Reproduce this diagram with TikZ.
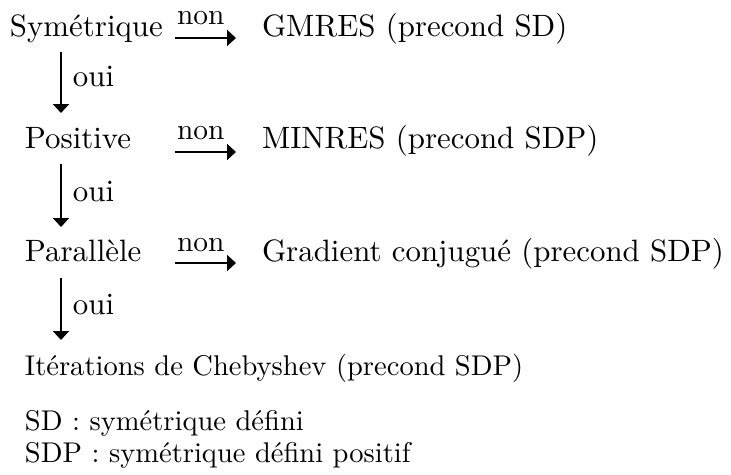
\documentclass[tikz,border=0pt]{standalone}
\usepackage{fontspec}
\usetikzlibrary{arrows.meta}
\begin{document}
\begin{tikzpicture}[x=0.34pt,y=-0.34pt,
  txt/.style={anchor=base west,inner sep=0pt,outer sep=0pt,font=\fontsize{10.5pt}{12.6pt}\selectfont},
  lbl/.style={anchor=base west,inner sep=0pt,outer sep=0pt,font=\fontsize{10pt}{12pt}\selectfont},
  low/.style={anchor=base west,inner sep=0pt,outer sep=0pt,font=\fontsize{9.7pt}{11.6pt}\selectfont},
  arr/.style={line width=0.5pt,-{Triangle[length=3pt,width=5.4pt]}}]
\useasboundingbox (0,0) rectangle (731,475);
% left column
\node[txt] (sym) at (10,37) {Symétrique};
\node[txt] (pos) at (25,149) {Positive};
\node[txt] (par) at (25,262) {Parallèle};
\node[low] (ite) at (25,376) {Itérations de Chebyshev (precond SDP)};
% right column
\node[txt] (gmres) at (262,37) {GMRES (precond SD)};
\node[txt] (minres) at (262,149) {MINRES (precond SDP)};
\node[txt] (grad) at (262,262) {Gradient conjugué (precond SDP)};
% legend
\node[low] (sd) at (25,431) {SD : symétrique défini};
\node[low] (sdp) at (25,463) {SDP : symétrique défini positif};
% horizontal arrows
\coordinate (h1s) at (175,38); \coordinate (h1e) at (236,38);
\coordinate (h2s) at (175,152); \coordinate (h2e) at (236,152);
\coordinate (h3s) at (175,263); \coordinate (h3e) at (236,263);
\draw[arr] (h1s) -- (h1e);
\draw[arr] (h2s) -- (h2e);
\draw[arr] (h3s) -- (h3e);
\node[lbl] (n1) at (177,25) {non};
\node[lbl] (n2) at (177,140) {non};
\node[lbl] (n3) at (177,252) {non};
% vertical arrows
\coordinate (v1s) at (61,52); \coordinate (v1e) at (61,113);
\coordinate (v2s) at (61,164); \coordinate (v2e) at (61,227);
\coordinate (v3s) at (61,278); \coordinate (v3e) at (61,340);
\draw[arr] (v1s) -- (v1e);
\draw[arr] (v2s) -- (v2e);
\draw[arr] (v3s) -- (v3e);
\node[txt] (o1) at (73,87) {oui};
\node[txt] (o2) at (73,202) {oui};
\node[txt] (o3) at (73,315) {oui};
\end{tikzpicture}
\end{document}
